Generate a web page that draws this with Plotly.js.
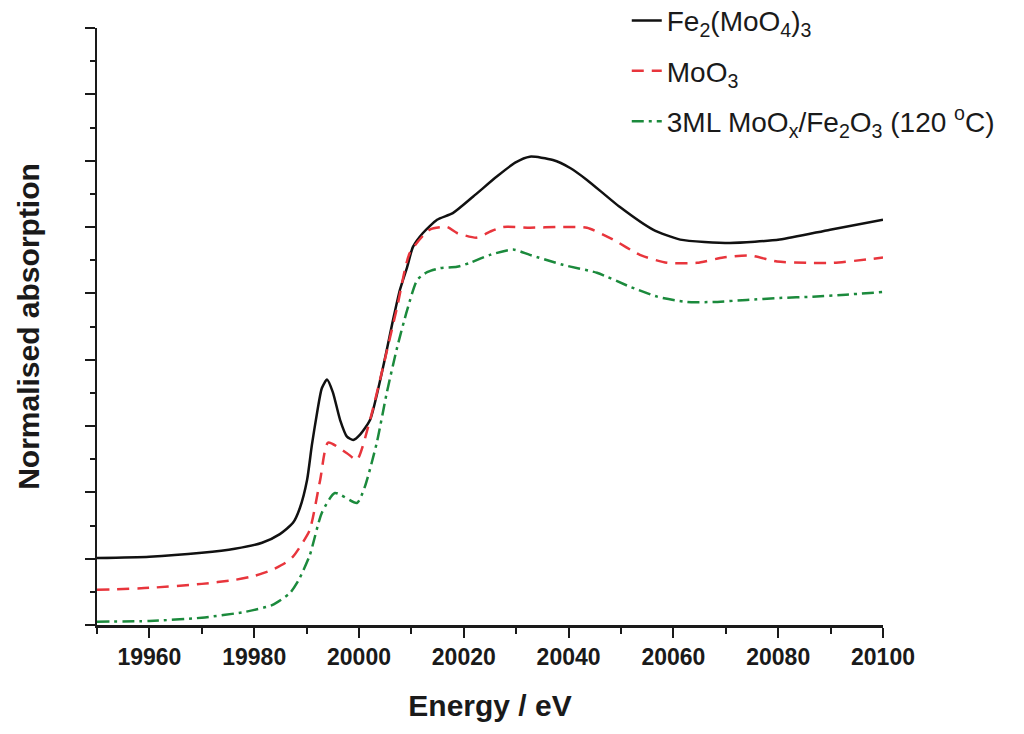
<!DOCTYPE html>
<html>
<head>
<meta charset="utf-8">
<script src="https://cdn.plot.ly/plotly-3.0.1.min.js"></script>
<style>
  html, body { margin: 0; padding: 0; background: #fff; }
  #chart { width: 1024px; height: 734px; }
</style>
</head>
<body>
<div id="chart"></div>
<script>
// Fe2(MoO4)3 reference
var fe_x = [19950, 19960, 19970, 19976.3, 19981.5, 19984.9, 19987.4, 19988.7, 19990.1, 19991.0,
  19992.0, 19992.9, 19993.9, 19995.0, 19996.4, 19997.7, 19998.9, 20000.2, 20002.1, 20004.6,
  20006.5, 20007.8, 20009.2, 20010.3, 20012.2, 20014.9, 20017.9, 20021.8, 20026.3, 20029.8,
  20032.6, 20037.0, 20040.3, 20043.5, 20049.8, 20056.1, 20061.3, 20070.8, 20080.3, 20089.9, 20100];
var fe_y = [1.01, 1.03, 1.09, 1.15, 1.24, 1.37, 1.54, 1.76, 2.19, 2.71,
  3.20, 3.57, 3.70, 3.51, 3.09, 2.84, 2.79, 2.87, 3.09, 3.89,
  4.60, 5.05, 5.40, 5.70, 5.91, 6.11, 6.21, 6.46, 6.76, 6.97,
  7.06, 7.01, 6.89, 6.71, 6.30, 5.96, 5.81, 5.76, 5.81, 5.96, 6.11];

// MoO3 reference
var moo3_x = [19950, 19960, 19970, 19976.3, 19980, 19983.4, 19986, 19987.4, 19989, 19990.6,
  19992.6, 19994.1, 19997.7, 19999.6, 20002.1, 20004.6, 20007.3, 20009.7, 20013.5, 20016.8,
  20018.7, 20022.5, 20025.0, 20027.5, 20032.6, 20038.4, 20043.5, 20048.5, 20053.6, 20058.8,
  20064.5, 20069.5, 20074.6, 20079.8, 20085.5, 20090.5, 20096.9, 20100];
var moo3_y = [0.53, 0.56, 0.62, 0.68, 0.74, 0.83, 0.94, 1.03, 1.21, 1.43,
  2.19, 2.75, 2.59, 2.49, 3.09, 3.89, 4.80, 5.61, 5.96, 6.00,
  5.91, 5.84, 5.93, 6.00, 5.99, 6.00, 5.99, 5.81, 5.58, 5.46,
  5.46, 5.54, 5.57, 5.48, 5.46, 5.46, 5.51, 5.54];

// 3ML MoOx/Fe2O3 (120 C)
var ml_x = [19950, 19960, 19970, 19978.4, 19983.4, 19986.8, 19988.5, 19990.6, 19992.9, 19995.4,
  19999.6, 20001.1, 20003.4, 20005.3, 20007.3, 20009.2, 20011.1, 20013.0, 20015.5, 20018.7,
  20021.2, 20025.0, 20029.4, 20032.6, 20038.9, 20045.4, 20051.7, 20056.9, 20062.6, 20067.6,
  20074.0, 20080.3, 20086.6, 20092.9, 20100];
var ml_y = [0.05, 0.06, 0.11, 0.20, 0.30, 0.48, 0.68, 1.05, 1.69, 1.99,
  1.84, 2.08, 2.75, 3.50, 4.19, 4.75, 5.20, 5.32, 5.38, 5.40,
  5.46, 5.58, 5.66, 5.58, 5.43, 5.31, 5.10, 4.95, 4.87, 4.87,
  4.90, 4.93, 4.95, 4.98, 5.02];

var names = [
  'Fe<sub>2</sub>(MoO<sub>4</sub>)<sub>3</sub>',
  'MoO<sub>3</sub>',
  '3ML MoO<sub>x</sub>/Fe<sub>2</sub>O<sub>3</sub> (120 <sup>o</sup>C)'
];

var trace1 = {
  x: fe_x, y: fe_y, name: names[0], legendgroup: 'a',
  mode: 'lines', type: 'scatter',
  line: { color: '#111111', width: 2.5, shape: 'spline', smoothing: 0.6 }
};
var trace2 = {
  x: moo3_x, y: moo3_y, name: names[1], legendgroup: 'b',
  mode: 'lines', type: 'scatter',
  line: { color: '#e8353c', width: 2.5, dash: '12px,8px', shape: 'spline', smoothing: 0.6 }
};
var trace3 = {
  x: ml_x, y: ml_y, name: names[2], legendgroup: 'c',
  mode: 'lines', type: 'scatter',
  line: { color: '#1b8a3c', width: 2.5, dash: '12px,5px,3px,5px', shape: 'spline', smoothing: 0.6 }
};

var data = [trace1, trace2, trace3];

var layout = {
  width: 1024, height: 734,
  margin: { l: 97, r: 141, t: 28, b: 109, autoexpand: false },
  paper_bgcolor: '#ffffff',
  plot_bgcolor: '#ffffff',
  font: { family: 'Liberation Sans, Arial, sans-serif', color: '#1a1a1a' },
  showlegend: true,
  legend: {
    x: 0.674, y: 1.054, xanchor: 'left', yanchor: 'top',
    font: { size: 28, color: '#1a1a1a' },
    tracegroupgap: 11,
    bgcolor: 'rgba(0,0,0,0)'
  },
  xaxis: {
    range: [19950, 20100],
    tick0: 19960, dtick: 20, tickformat: 'd',
    ticks: 'outside', ticklen: 10, tickwidth: 2, tickcolor: '#1a1a1a',
    minor: { dtick: 10, ticks: 'outside', ticklen: 6, tickwidth: 2, tickcolor: '#1a1a1a' },
    showline: true, linecolor: '#1a1a1a', linewidth: 2.5,
    showgrid: false, zeroline: false,
    tickfont: { size: 23, color: '#1a1a1a', weight: 'bold' },
    title: { text: '<b>Energy / eV</b>', font: { size: 30, color: '#1a1a1a' }, standoff: 26 }
  },
  yaxis: {
    range: [0, 9],
    dtick: 1,
    ticks: 'outside', ticklen: 10, tickwidth: 2, tickcolor: '#1a1a1a',
    minor: { dtick: 0.5, ticks: 'outside', ticklen: 5, tickwidth: 2, tickcolor: '#1a1a1a' },
    showticklabels: false,
    showline: true, linecolor: '#1a1a1a', linewidth: 2.5,
    showgrid: false, zeroline: false,
    title: { text: '<b>Normalised absorption</b>', font: { size: 30, color: '#1a1a1a' }, standoff: 36 }
  }
};

Plotly.newPlot('chart', data, layout, { displayModeBar: false, staticPlot: true });
</script>
</body>
</html>
